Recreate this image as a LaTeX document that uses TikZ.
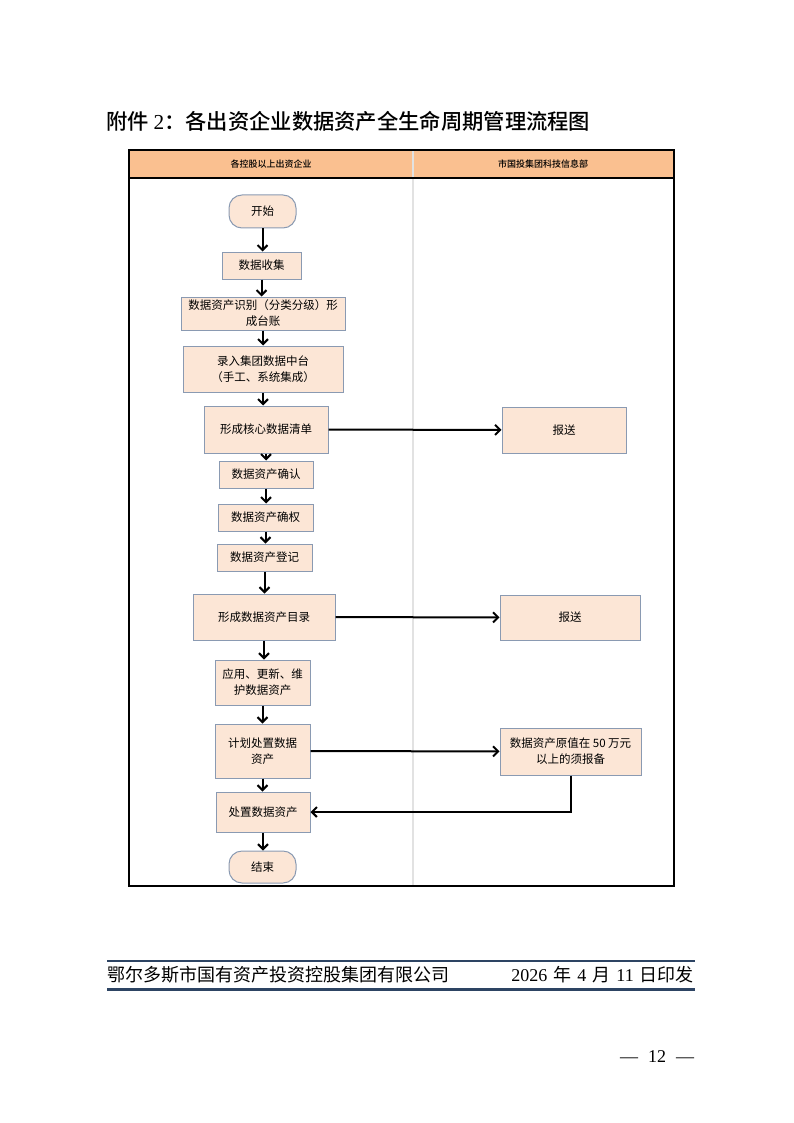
\documentclass[tikz,border=0pt]{standalone}
\usepackage{fontspec}
\setmainfont{Liberation Serif}
\newfontfamily\cjk{Noto Sans CJK SC}
\newfontfamily\cjkmid{Noto Sans CJK SC Medium}
\usepackage{xcolor}
\usepackage{tikz}
\usetikzlibrary{arrows.meta,
                calc,
                positioning}

\definecolor{headorange}{HTML}{FAC090}
\definecolor{boxfill}{HTML}{FCE6D6}
\definecolor{boxline}{HTML}{8A9AB2}
\definecolor{laneline}{HTML}{E2E2E2}
\definecolor{footblue}{HTML}{2D4463}

\tikzset{
  flowbox/.style={draw=boxline, fill=boxfill, line width=1pt, align=center,
                  inner sep=0pt, font=\cjk\fontsize{11.5}{16}\selectfont},
  termbox/.style={flowbox, rounded corners=13pt},
  flow/.style={-{Straight Barb[length=5pt,width=10pt]}, line width=2pt},
}

\begin{document}
\begin{tikzpicture}[x=1pt,y=-1pt]
\useasboundingbox (0,0) rectangle (794,1123);

% title
\node[anchor=west, font=\cjkmid\fontsize{21.3}{26}\selectfont, inner sep=0pt] (title) at (106,121)
  {附件 {\rmfamily 2}：各出资企业数据资产全生命周期管理流程图};

% lanes
\fill[headorange] (129,150) rectangle (674,178);
\draw[laneline, line width=1.5pt] (413,150) -- (413,886);
\draw[line width=2pt] (129,178) -- (674,178);
\draw[line width=2.5pt] (129,150) rectangle (674,886);
\node[font=\cjkmid\fontsize{9}{11}\selectfont] (laneA) at (271,164) {各控股以上出资企业};
\node[font=\cjkmid\fontsize{9}{11}\selectfont] (laneB) at (543,164) {市国投集团科技信息部};

% left lane
\node[termbox, minimum width=67, minimum height=33] (start) at (262.5,211.5) {开始};
\node[flowbox, minimum width=79, minimum height=27] (collect) at (261.5,265.5) {数据收集};
\node[flowbox, minimum width=164, minimum height=33] (ident) at (263,313.5) {数据资产识别（分类分级）形\\成台账};
\node[flowbox, minimum width=160, minimum height=46] (entry) at (263,369) {录入集团数据中台\\（手工、系统集成）};
\node[flowbox, minimum width=124, minimum height=47] (core) at (266,429.5) {形成核心数据清单};
\node[flowbox, minimum width=94, minimum height=27] (confirm) at (266,474.5) {数据资产确认};
\node[flowbox, minimum width=95, minimum height=27] (owner) at (265.5,517.5) {数据资产确权};
\node[flowbox, minimum width=95, minimum height=27] (register) at (264.5,557.5) {数据资产登记};
\node[flowbox, minimum width=142, minimum height=46] (catalog) at (264,617) {形成数据资产目录};
\node[flowbox, minimum width=95, minimum height=45] (apply) at (262.5,682.5) {应用、更新、维\\护数据资产};
\node[flowbox, minimum width=95, minimum height=54] (plan) at (262.5,751) {计划处置数据\\资产};
\node[flowbox, minimum width=94, minimum height=40] (dispose) at (263,812) {处置数据资产};
\node[termbox, minimum width=67, minimum height=32] (end) at (262.5,867) {结束};

% right lane
\node[flowbox, minimum width=124, minimum height=46] (report1) at (564,430) {报送};
\node[flowbox, minimum width=140, minimum height=45] (report2) at (570,617.5) {报送};
\node[flowbox, minimum width=141, minimum height=47] (filing) at (570.5,751.5) {数据资产原值在 50 万元\\以上的须报备};

\foreach \a/\b in {start/collect, collect/ident, ident/entry, entry/core,
                   core/confirm, confirm/owner, owner/register, register/catalog,
                   catalog/apply, apply/plan, plan/dispose, dispose/end}
  \draw[flow] (\a) -- (\a |- \b.north);

\draw[flow] (core) -- (report1);
\draw[flow] (catalog) -- (report2);
\draw[flow] (plan) -- (filing);
\draw[flow] (filing.south) |- (dispose.east);

% footer
\draw[footblue, line width=2pt] (107,961) -- (695,961);
\draw[footblue, line width=3pt] (107,989) -- (695,989);
\node[anchor=west, inner sep=0pt, font=\cjk\fontsize{18}{20}\selectfont] (issuer) at (107,975)
  {鄂尔多斯市国有资产投资控股集团有限公司};
\node[anchor=east, inner sep=0pt, font=\cjk\fontsize{18}{20}\selectfont] (date) at (694,975)
  {{\rmfamily 2026}\hspace{6pt}年\hspace{6pt}{\rmfamily 4}\hspace{6pt}月\hspace{6pt}{\rmfamily 11}\hspace{6pt}日印发};
\node[font=\fontsize{18}{20}\selectfont] (page) at (657,1057) {—\hspace{10pt}12\hspace{10pt}—};
\end{tikzpicture}
\end{document}
